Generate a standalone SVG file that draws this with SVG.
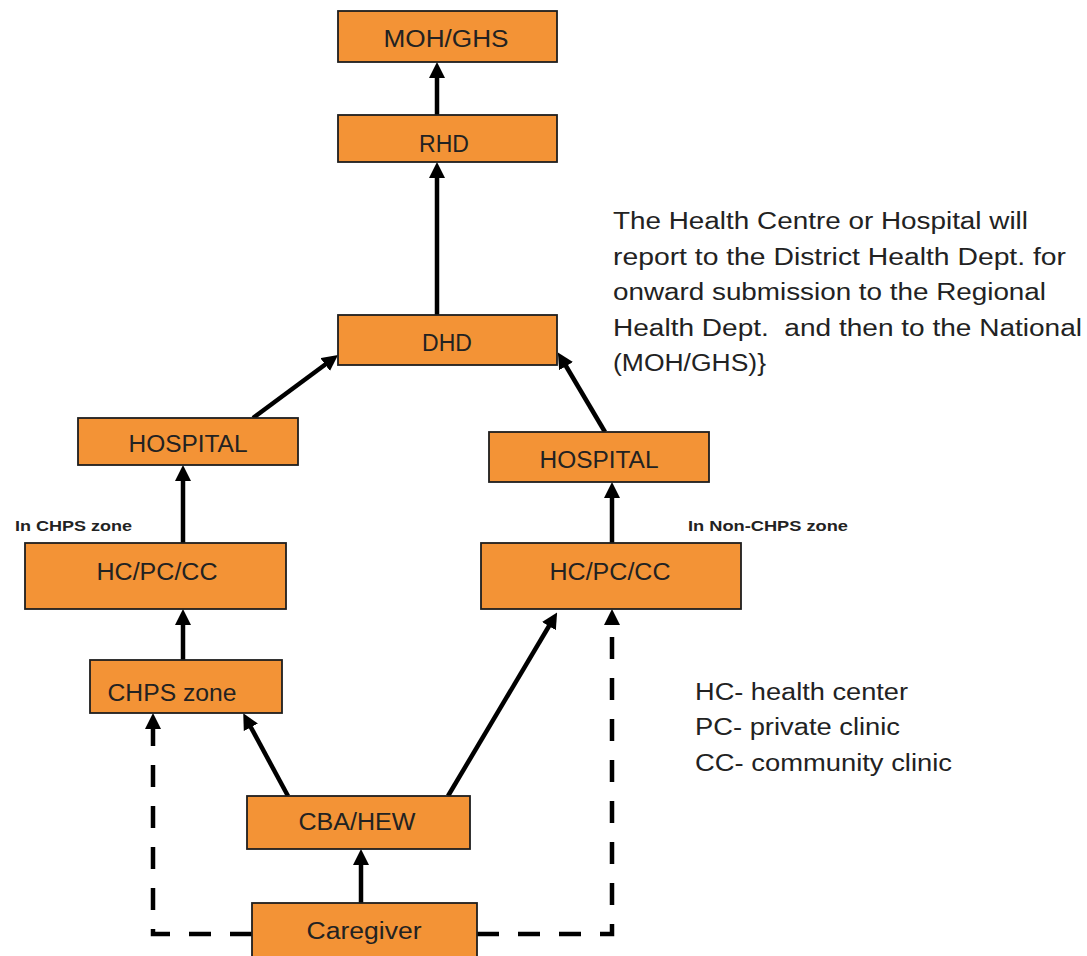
<svg xmlns="http://www.w3.org/2000/svg" width="1087" height="956" viewBox="0 0 1087 956">
<style>
.box{fill:#F39336;stroke:#1e1e1e;stroke-width:1.8}
.lbl{font-family:"Liberation Sans",Arial,sans-serif;font-size:23px;fill:#222;text-anchor:middle}
.zone{font-family:"Liberation Sans",Arial,sans-serif;font-size:14px;font-weight:bold;fill:#222}
.note{font-family:"Liberation Sans",Arial,sans-serif;font-size:23px;fill:#222}
.ar{stroke:#000;stroke-width:4.5;fill:none;marker-end:url(#ah)}
.ds{stroke:#000;stroke-width:4.5;fill:none;stroke-dasharray:22 19;marker-end:url(#ah)}
</style>
<defs>
<marker id="ah" viewBox="0 0 16 16" refX="6" refY="8" markerWidth="16" markerHeight="16" orient="auto" markerUnits="userSpaceOnUse">
<path d="M0,0 L16,8 L0,16 z" fill="#000"/>
</marker>
</defs>
<rect width="1087" height="956" fill="#fff"/>
<g id="connectors">
<line class="ar" x1="437" y1="115" x2="437" y2="72"/>
<line class="ar" x1="437" y1="315" x2="437" y2="172"/>
<line class="ar" x1="253" y1="418" x2="330" y2="361"/>
<line class="ar" x1="605" y1="432" x2="563" y2="361"/>
<line class="ar" x1="183" y1="543" x2="183" y2="475"/>
<line class="ar" x1="612" y1="543" x2="612" y2="492"/>
<line class="ar" x1="183" y1="660" x2="183" y2="619"/>
<line class="ar" x1="288" y1="796" x2="248" y2="722"/>
<line class="ar" x1="448" y1="796" x2="552" y2="621"/>
<line class="ar" x1="361" y1="903" x2="361" y2="859"/>
<path class="ds" d="M252,934 L153,934 L153,723"/>
<path class="ds" d="M477,934 L612,934 L612,619"/>
</g>
<g id="moh"><rect class="box" x="338" y="11" width="219" height="51"/><text class="lbl" x="446" y="47" textLength="125" lengthAdjust="spacingAndGlyphs">MOH/GHS</text></g>
<g id="rhd"><rect class="box" x="338" y="115" width="219" height="47"/><text class="lbl" x="444" y="152">RHD</text></g>
<g id="dhd"><rect class="box" x="338" y="315" width="219" height="50"/><text class="lbl" x="447" y="351">DHD</text></g>
<g id="hospital-left"><rect class="box" x="78" y="418" width="220" height="47"/><text class="lbl" x="188" y="452" textLength="119" lengthAdjust="spacingAndGlyphs">HOSPITAL</text></g>
<g id="hospital-right"><rect class="box" x="489" y="432" width="220" height="50"/><text class="lbl" x="599" y="468" textLength="119" lengthAdjust="spacingAndGlyphs">HOSPITAL</text></g>
<g id="hc-left"><rect class="box" x="25" y="543" width="261" height="66"/><text class="lbl" x="157" y="580" textLength="121" lengthAdjust="spacingAndGlyphs">HC/PC/CC</text></g>
<g id="hc-right"><rect class="box" x="481" y="543" width="260" height="66"/><text class="lbl" x="610" y="580" textLength="121" lengthAdjust="spacingAndGlyphs">HC/PC/CC</text></g>
<g id="chps"><rect class="box" x="90" y="660" width="192" height="53"/><text class="lbl" x="172" y="701" textLength="129" lengthAdjust="spacingAndGlyphs">CHPS zone</text></g>
<g id="cba"><rect class="box" x="247" y="796" width="223" height="53"/><text class="lbl" x="357" y="830" textLength="117" lengthAdjust="spacingAndGlyphs">CBA/HEW</text></g>
<g id="caregiver"><rect class="box" x="252" y="903" width="225" height="60"/><text class="lbl" x="364" y="939" textLength="115" lengthAdjust="spacingAndGlyphs">Caregiver</text></g>
<g id="zone-labels">
<text class="zone" x="15" y="531" textLength="117" lengthAdjust="spacingAndGlyphs">In CHPS zone</text>
<text class="zone" x="688" y="531" textLength="160" lengthAdjust="spacingAndGlyphs">In Non-CHPS zone</text>
</g>
<g id="note">
<text class="note" x="613" y="229" textLength="415" lengthAdjust="spacingAndGlyphs">The Health Centre or Hospital will</text>
<text class="note" x="613" y="265" textLength="453" lengthAdjust="spacingAndGlyphs">report to the District Health Dept. for</text>
<text class="note" x="613" y="300" textLength="433" lengthAdjust="spacingAndGlyphs">onward submission to the Regional</text>
<text class="note" x="613" y="336" textLength="469" lengthAdjust="spacingAndGlyphs" xml:space="preserve">Health Dept.  and then to the National</text>
<text class="note" x="613" y="371" textLength="153" lengthAdjust="spacingAndGlyphs">(MOH/GHS)}</text>
</g>
<g id="legend">
<text class="note" x="695" y="700" textLength="213" lengthAdjust="spacingAndGlyphs">HC- health center</text>
<text class="note" x="695" y="735" textLength="205" lengthAdjust="spacingAndGlyphs">PC- private clinic</text>
<text class="note" x="695" y="771" textLength="257" lengthAdjust="spacingAndGlyphs">CC- community clinic</text>
</g>
</svg>
